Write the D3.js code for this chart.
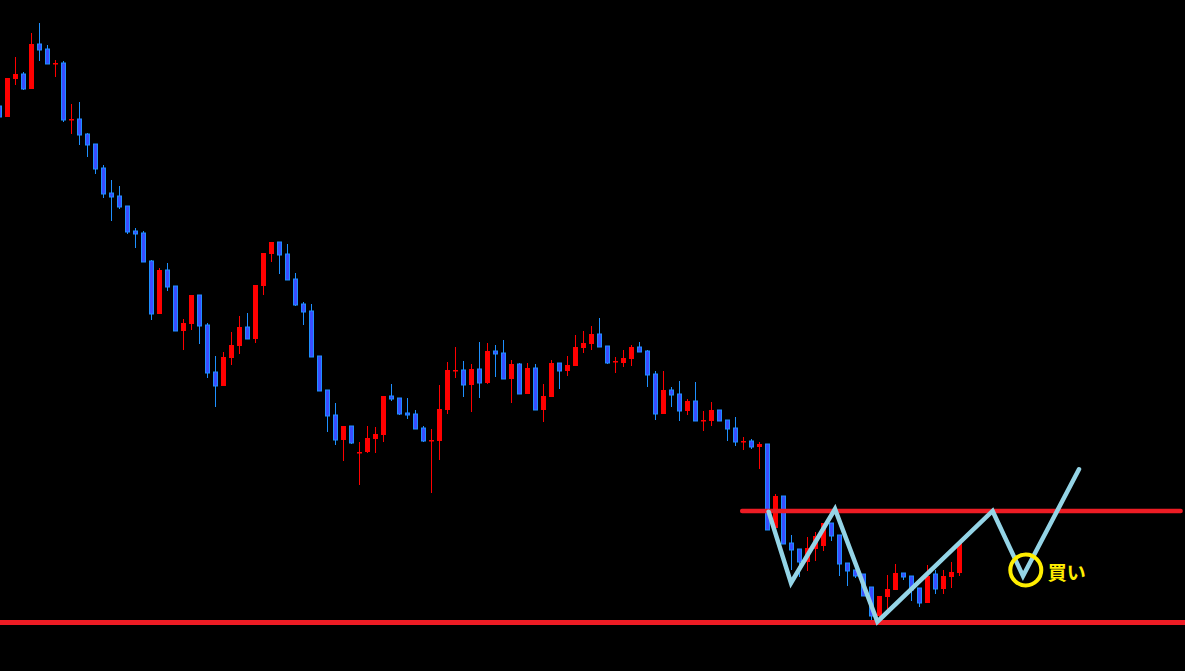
<!DOCTYPE html>
<html>
<head>
<meta charset="utf-8">
<script src="https://cdn.jsdelivr.net/npm/d3@7"></script>
<style>
  html, body { margin: 0; padding: 0; background: #000; overflow: hidden; }
</style>
</head>
<body>
<div id="chart"></div>
<script>
// daily candles, one per bar slot (price points)
var opens  = [594,583,621,626,611,656,651,636,637,580,581,566,556,532,507,504,494,469,467,439,386,430,414,369,376,405,375,328,314,342,354,373,361,414,446,458,446,421,396,389,344,310,285,260,274,248,248,261,265,304,302,287,286,272,259,259,290,329,330,315,331,317,349,347,321,336,306,332,290,303,337,329,334,352,356,366,354,338,337,341,353,349,326,286,310,306,289,299,279,279,290,280,272,258,259,253,256,172,204,157,151,138,151,154,177,165,137,130,126,113,84,103,110,127,124,112,97,126,111,123,127];
var highs  = [596,622,643,628,667,677,655,640,639,596,598,567,556,535,520,514,494,472,469,440,432,437,414,381,405,405,377,344,348,368,384,387,415,447,458,458,456,427,398,396,344,310,297,274,274,258,274,273,304,316,302,302,290,274,271,315,338,353,339,336,358,357,355,360,340,337,337,336,316,340,337,344,365,369,374,382,354,343,350,355,358,350,329,329,313,319,301,318,289,298,290,280,283,263,261,258,256,206,204,165,151,163,168,177,177,165,137,130,126,113,104,125,136,127,124,112,135,130,130,138,157];
var lows   = [582,583,615,610,611,639,636,623,578,566,555,543,526,502,479,491,466,452,438,380,386,409,369,350,370,356,322,293,314,335,346,361,357,405,438,426,420,394,375,343,309,268,255,239,256,215,247,247,258,299,285,281,271,258,207,240,286,322,303,288,302,316,323,321,297,306,306,290,278,311,311,324,334,347,350,353,336,327,333,334,348,313,280,286,293,279,285,279,269,274,279,259,254,250,251,231,170,170,156,130,123,129,139,149,159,124,114,122,104,80,80,90,110,120,99,93,97,106,106,112,124];
var closes = [583,622,626,611,656,650,636,637,580,581,565,555,531,506,503,493,468,466,438,386,430,413,369,377,405,374,327,314,343,355,373,361,415,447,458,445,420,395,388,343,309,284,260,274,257,248,262,266,304,301,286,285,271,259,260,291,330,330,315,331,317,349,346,321,336,306,332,290,304,337,329,335,353,357,366,353,337,339,342,353,348,325,286,310,305,289,299,279,280,290,279,271,258,259,253,256,170,204,156,150,138,152,164,177,164,136,129,124,104,84,104,111,127,123,110,97,124,111,124,128,157];

// hand drawn pattern on the right side
var zigzag = [[96.2,188.3],[99,117],[104.5,191],[109.8,78.3],[124.2,189],[128,124],[135,230.7]];
var resistance = 189;
var support = 77.5;
var resistanceFrom = 92.9;
var resistanceTo = 147.7;
var buyPoint = [128.35, 130];
var buyLabel = "買い";

var width = 1185, height = 671;

var svg = d3.select("#chart").append("svg")
    .attr("width", width)
    .attr("height", height)
    .style("display", "block")
    .style("background", "#000");

var xScale = d3.scaleLinear().domain([0, 148]).range([-1, 1183]);
var yScale = d3.scaleLinear().domain([0, 700]).range([700, 0]);

var data = opens.map(function(o, i) {
    return {i: i, o: o, h: highs[i], l: lows[i], c: closes[i]};
});

var up = "#ff0000", downFill = "#3a4dff", downEdge = "#1e90ff";

var g = svg.append("g");

// wicks
g.selectAll(".wick")
    .data(data)
    .enter().append("line")
    .attr("class", "wick")
    .attr("x1", function(d) { return Math.round(xScale(d.i)) + 0.5; })
    .attr("x2", function(d) { return Math.round(xScale(d.i)) + 0.5; })
    .attr("y1", function(d) { return yScale(d.h); })
    .attr("y2", function(d) { return yScale(d.l); })
    .attr("stroke", function(d) { return d.c >= d.o ? up : downEdge; })
    .attr("stroke-width", 1);

// bodies
g.selectAll(".body")
    .data(data)
    .enter().append("rect")
    .attr("class", "body")
    .attr("x", function(d) { return Math.round(xScale(d.i)) - (d.c >= d.o ? 2 : 1.5); })
    .attr("width", function(d) { return d.c >= d.o ? 5 : 4; })
    .attr("y", function(d) { return yScale(Math.max(d.o, d.c)); })
    .attr("height", function(d) { return Math.max(1.5, Math.abs(yScale(d.o) - yScale(d.c))); })
    .attr("fill", function(d) { return d.c >= d.o ? up : downFill; })
    .attr("stroke", function(d) { return d.c >= d.o ? "none" : downEdge; })
    .attr("stroke-width", 1);

// horizontal levels
svg.append("line")
    .attr("x1", xScale(resistanceFrom))
    .attr("x2", xScale(resistanceTo))
    .attr("y1", yScale(resistance))
    .attr("y2", yScale(resistance))
    .attr("stroke", "#ed1c24")
    .attr("stroke-width", 4.5)
    .attr("stroke-linecap", "round");

svg.append("line")
    .attr("x1", 0)
    .attr("x2", width)
    .attr("y1", yScale(support))
    .attr("y2", yScale(support))
    .attr("stroke", "#ed1c24")
    .attr("stroke-width", 5);

// zigzag
var line = d3.line()
    .x(function(d) { return xScale(d[0]); })
    .y(function(d) { return yScale(d[1]); });

svg.append("path")
    .datum(zigzag)
    .attr("d", line)
    .attr("fill", "none")
    .attr("stroke", "#94d4e6")
    .attr("stroke-width", 4.5)
    .attr("stroke-linejoin", "miter")
    .attr("stroke-linecap", "round");

// buy marker
svg.append("circle")
    .attr("cx", xScale(buyPoint[0]))
    .attr("cy", yScale(buyPoint[1]))
    .attr("r", 15.5)
    .attr("fill", "none")
    .attr("stroke", "#ffee00")
    .attr("stroke-width", 4);

svg.append("text")
    .attr("x", xScale(buyPoint[0]) + 22)
    .attr("y", yScale(buyPoint[1]) + 10)
    .attr("fill", "#ffee00")
    .attr("font-family", "'Noto Sans CJK JP', sans-serif")
    .attr("font-weight", "bold")
    .attr("font-size", "19px")
    .text(buyLabel);
</script>
</body>
</html>
